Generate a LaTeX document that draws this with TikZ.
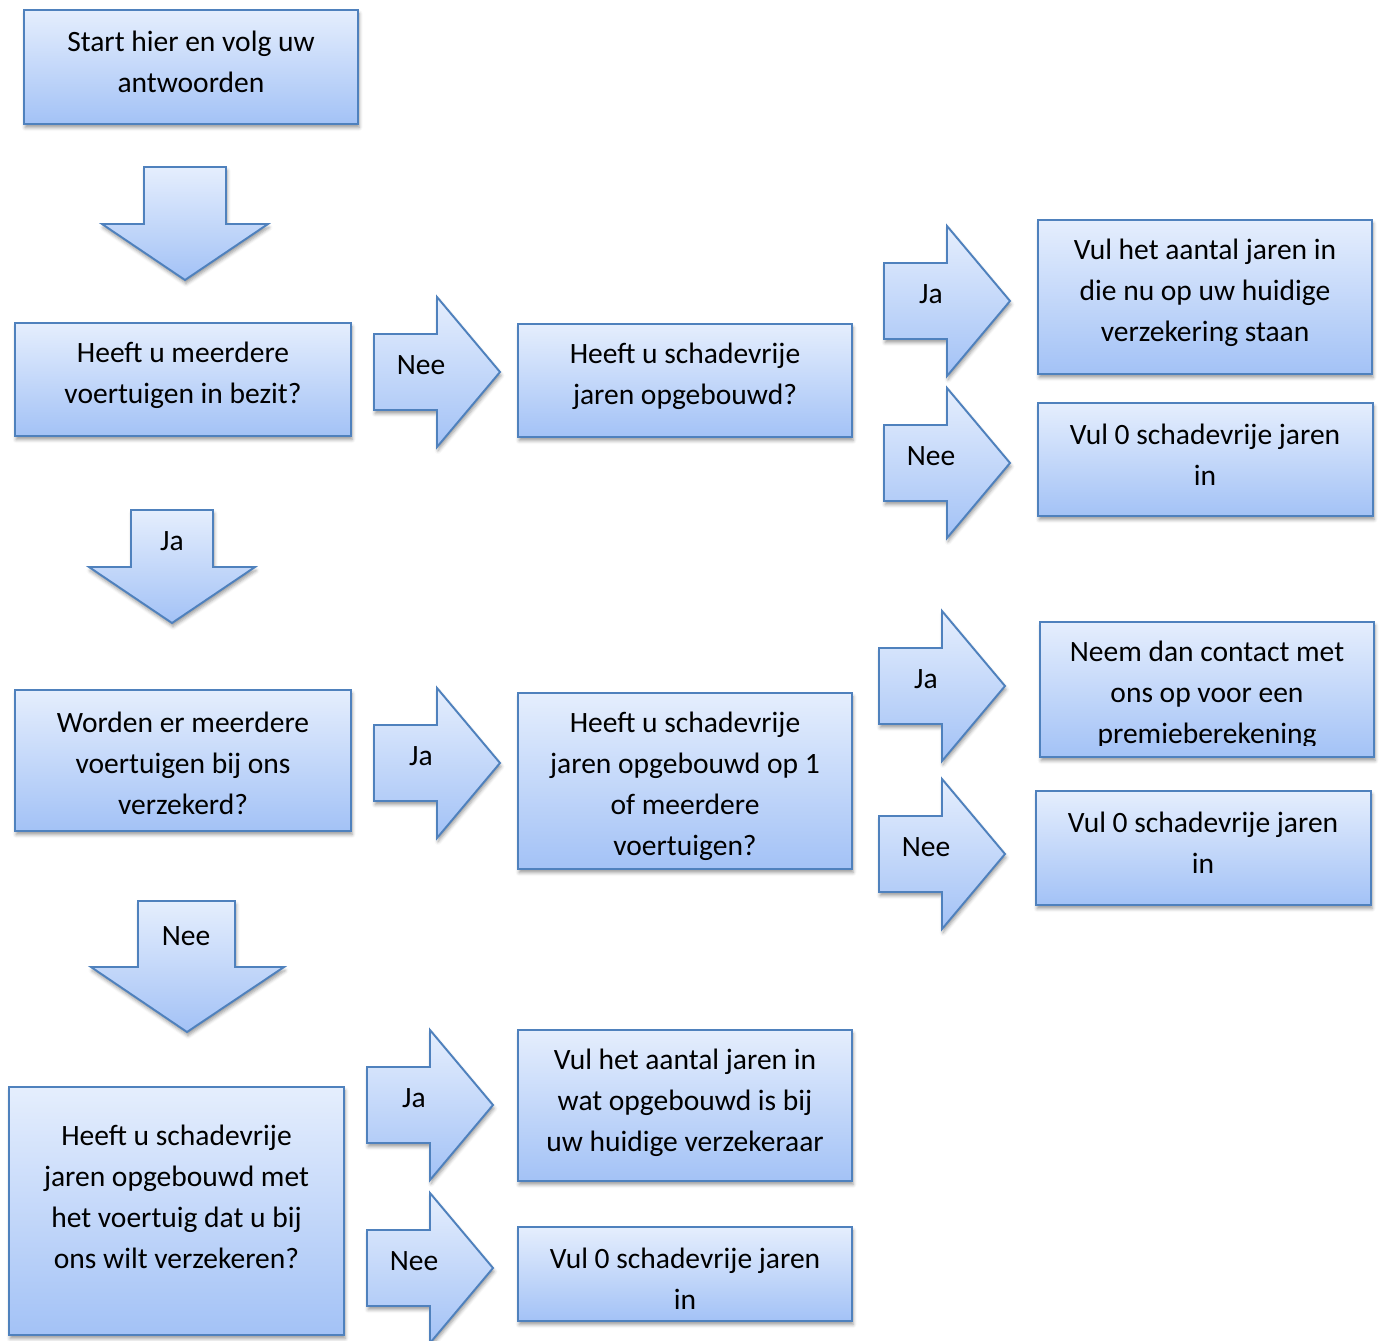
\documentclass[tikz,border=0pt]{standalone}
\usepackage{fontspec}
\setmainfont{Carlito}
\usetikzlibrary{shadows.blur}
\definecolor{boxline}{HTML}{4F81BD}
\definecolor{boxtop}{HTML}{E5EEFD}
\definecolor{boxbottom}{HTML}{A3C2F6}

\begin{document}
\begin{tikzpicture}[x=0.02cm, y=-0.02cm,
  flow/.style={draw=boxline, line width=1.1pt, top color=boxtop, bottom color=boxbottom,
    blur shadow={shadow xshift=0.6pt, shadow yshift=-2pt, shadow blur radius=2pt, shadow opacity=40}},
  box/.style={flow, inner sep=0pt},
  txt/.style={align=center, inner sep=0pt, font=\fontsize{16.8}{23.3}\selectfont}]
  \useasboundingbox (0,0) rectangle (1383,1340);

  % boxes
  \node[box, minimum width=6.68cm, minimum height=2.28cm] (start) at (191,67) {};
  \node[box, minimum width=6.72cm, minimum height=2.26cm] (bezit) at (183,379.5) {};
  \node[box, minimum width=6.68cm, minimum height=2.26cm] (opgebouwd) at (685,380.5) {};
  \node[box, minimum width=6.68cm, minimum height=3.08cm] (huidige) at (1205,297) {};
  \node[box, minimum width=6.70cm, minimum height=2.26cm] (nulA) at (1205.5,459.5) {};
  \node[box, minimum width=6.72cm, minimum height=2.82cm] (verzekerd) at (183,760.5) {};
  \node[box, minimum width=6.68cm, minimum height=3.52cm] (meerdere) at (685,781) {};
  \node[box, minimum width=6.68cm, minimum height=2.70cm] (contact) at (1207,689.5) {};
  \node[box, minimum width=6.70cm, minimum height=2.28cm] (nulB) at (1203.5,848) {};
  \node[box, minimum width=6.70cm, minimum height=4.96cm] (voertuig) at (176.5,1211) {};
  \node[box, minimum width=6.68cm, minimum height=3.02cm] (verzekeraar) at (685,1105.5) {};
  \node[box, minimum width=6.68cm, minimum height=1.88cm] (nulC) at (685,1274) {};

  % box texts
  \node[txt] (tstart) at (191,62) {Start hier en volg uw\\antwoorden};
  \node[txt] (tbezit) at (183,375) {Heeft u meerdere\\voertuigen in bezit?};
  \node[txt] (topgebouwd) at (685,376) {Heeft u schadevrije\\jaren opgebouwd?};
  \node[txt] (thuidige) at (1205,292.5) {Vul het aantal jaren in\\die nu op uw huidige\\verzekering staan};
  \node[txt] (tnulA) at (1205,455) {Vul 0 schadevrije jaren\\in};
  \node[txt] (tverzekerd) at (183,763.5) {Worden er meerdere\\voertuigen bij ons\\verzekerd?};
  \node[txt] (tmeerdere) at (685,786) {Heeft u schadevrije\\jaren opgebouwd op 1\\of meerdere\\voertuigen?};
  \begin{scope}
    \clip (1041,623) rectangle (1373,745);
    \node[txt] (tcontact) at (1207,695) {Neem dan contact met\\ons op voor een\\premieberekening};
  \end{scope}
  \node[txt] (tnulB) at (1203,843) {Vul 0 schadevrije jaren\\in};
  \node[txt] (tvoertuig) at (176.5,1197) {Heeft u schadevrije\\jaren opgebouwd met\\het voertuig dat u bij\\ons wilt verzekeren?};
  \node[txt] (tverzekeraar) at (685,1103) {Vul het aantal jaren in\\wat opgebouwd is bij\\uw huidige verzekeraar};
  \node[txt] (tnulC) at (685,1279) {Vul 0 schadevrije jaren\\in};

  % down arrows
  \path[flow] (144,167) -- (226,167) -- (226,224) -- (268,224) -- (185,280) -- (102,224) -- (144,224) -- cycle;
  \path[flow] (131,510) -- (213,510) -- (213,567) -- (255,567) -- (172,623) -- (89,567) -- (131,567) -- cycle;
  \path[flow] (138,901) -- (235,901) -- (235,967) -- (284,967) -- (187,1032) -- (91,967) -- (138,967) -- cycle;
  \node[txt] (dJa) at (172,541) {Ja};
  \node[txt] (dNee) at (186,936) {Nee};

  % right arrows
  \path[flow] (374,334) -- (437,334) -- (437,297) -- (500,372) -- (437,447) -- (437,410) -- (374,410) -- cycle;
  \path[flow] (884,263) -- (947,263) -- (947,226) -- (1010,301) -- (947,376) -- (947,339) -- (884,339) -- cycle;
  \path[flow] (884,425) -- (947,425) -- (947,388) -- (1010,463) -- (947,538) -- (947,501) -- (884,501) -- cycle;
  \path[flow] (374,725) -- (437,725) -- (437,688) -- (500,763) -- (437,838) -- (437,801) -- (374,801) -- cycle;
  \path[flow] (879,648) -- (942,648) -- (942,611) -- (1005,686) -- (942,761) -- (942,724) -- (879,724) -- cycle;
  \path[flow] (879,816) -- (942,816) -- (942,779) -- (1005,854) -- (942,929) -- (942,892) -- (879,892) -- cycle;
  \path[flow] (367,1067) -- (430,1067) -- (430,1030) -- (493,1105) -- (430,1180) -- (430,1143) -- (367,1143) -- cycle;
  \path[flow] (367,1230) -- (430,1230) -- (430,1193) -- (493,1268) -- (430,1343) -- (430,1306) -- (367,1306) -- cycle;
  \node[txt] (rNeeA) at (421,365) {Nee};
  \node[txt] (rJaA) at (931,294) {Ja};
  \node[txt] (rNeeB) at (931,456) {Nee};
  \node[txt] (rJaB) at (421,756) {Ja};
  \node[txt] (rJaC) at (926,679) {Ja};
  \node[txt] (rNeeC) at (926,847) {Nee};
  \node[txt] (rJaD) at (414,1098) {Ja};
  \node[txt] (rNeeD) at (414,1261) {Nee};
\end{tikzpicture}
\end{document}
